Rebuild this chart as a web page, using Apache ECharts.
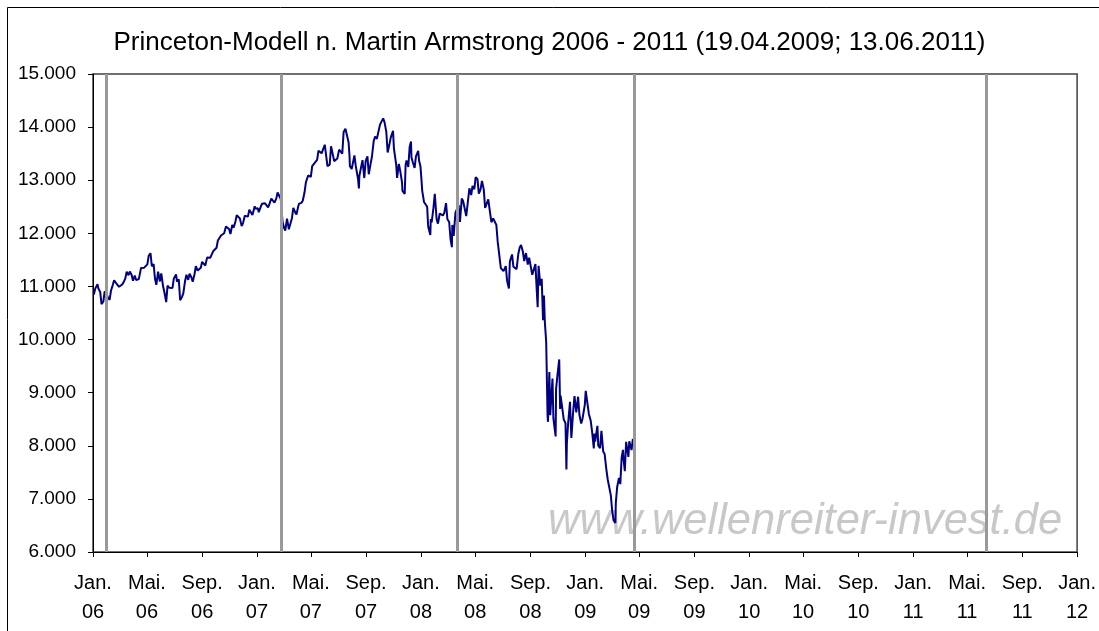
<!DOCTYPE html>
<html>
<head>
<meta charset="utf-8">
<script src="https://cdn.jsdelivr.net/npm/echarts@6/dist/echarts.min.js"></script>
<style>
  html, body { margin: 0; padding: 0; background: #fff; }
  #chart { width: 1099px; height: 631px; }
</style>
</head>
<body>
<div id="chart"></div>
<script>
// Dow-Jones Schlusskurse
const dates = [
  '2006-01-03','2006-01-06','2006-01-11','2006-01-13','2006-01-17','2006-01-20','2006-01-24','2006-01-27','2006-01-31',
  '2006-02-03','2006-02-07','2006-02-10','2006-02-14','2006-02-17','2006-02-21','2006-02-24','2006-02-28',
  '2006-03-03','2006-03-07','2006-03-10','2006-03-14','2006-03-17','2006-03-21','2006-03-24','2006-03-28','2006-03-31',
  '2006-04-04','2006-04-07','2006-04-11','2006-04-13','2006-04-18','2006-04-21','2006-04-25','2006-04-28',
  '2006-05-02','2006-05-05','2006-05-09','2006-05-10','2006-05-12','2006-05-16','2006-05-19','2006-05-22','2006-05-26','2006-05-30',
  '2006-06-02','2006-06-06','2006-06-09','2006-06-13','2006-06-16','2006-06-20','2006-06-23','2006-06-27','2006-06-30',
  '2006-07-05','2006-07-07','2006-07-11','2006-07-14','2006-07-18','2006-07-21','2006-07-25','2006-07-28',
  '2006-08-01','2006-08-04','2006-08-08','2006-08-11','2006-08-15','2006-08-18','2006-08-22','2006-08-25','2006-08-29',
  '2006-09-01','2006-09-05','2006-09-08','2006-09-12','2006-09-15','2006-09-19','2006-09-22','2006-09-26','2006-09-29',
  '2006-10-03','2006-10-06','2006-10-10','2006-10-13','2006-10-17','2006-10-20','2006-10-24','2006-10-27','2006-10-31',
  '2006-11-03','2006-11-07','2006-11-10','2006-11-14','2006-11-17','2006-11-21','2006-11-24','2006-11-28',
  '2006-12-01','2006-12-05','2006-12-08','2006-12-12','2006-12-15','2006-12-19','2006-12-22','2006-12-27','2006-12-29',
  '2007-01-03','2007-01-05','2007-01-09','2007-01-12','2007-01-16','2007-01-19','2007-01-23','2007-01-26','2007-01-30',
  '2007-02-02','2007-02-06','2007-02-09','2007-02-13','2007-02-16','2007-02-20','2007-02-23','2007-02-27',
  '2007-03-02','2007-03-05','2007-03-09','2007-03-13','2007-03-16','2007-03-20','2007-03-23','2007-03-27','2007-03-30',
  '2007-04-03','2007-04-05','2007-04-10','2007-04-13','2007-04-17','2007-04-20','2007-04-25','2007-04-27',
  '2007-05-01','2007-05-04','2007-05-08','2007-05-11','2007-05-15','2007-05-18','2007-05-22','2007-05-25','2007-05-29',
  '2007-06-01','2007-06-04','2007-06-07','2007-06-12','2007-06-15','2007-06-19','2007-06-22','2007-06-26','2007-06-29',
  '2007-07-03','2007-07-06','2007-07-10','2007-07-13','2007-07-17','2007-07-19','2007-07-24','2007-07-26','2007-07-27','2007-07-31',
  '2007-08-03','2007-08-06','2007-08-09','2007-08-10','2007-08-14','2007-08-16','2007-08-17','2007-08-21','2007-08-24','2007-08-28','2007-08-31',
  '2007-09-04','2007-09-07','2007-09-11','2007-09-14','2007-09-18','2007-09-21','2007-09-25','2007-09-28',
  '2007-10-02','2007-10-05','2007-10-09','2007-10-12','2007-10-16','2007-10-19','2007-10-23','2007-10-26','2007-10-31',
  '2007-11-02','2007-11-07','2007-11-09','2007-11-13','2007-11-16','2007-11-20','2007-11-21','2007-11-26','2007-11-28','2007-11-30',
  '2007-12-04','2007-12-07','2007-12-10','2007-12-11','2007-12-14','2007-12-18','2007-12-21','2007-12-26','2007-12-28','2007-12-31',
  '2008-01-02','2008-01-04','2008-01-08','2008-01-11','2008-01-15','2008-01-17','2008-01-18','2008-01-22','2008-01-23','2008-01-25','2008-01-29',
  '2008-02-01','2008-02-05','2008-02-08','2008-02-12','2008-02-15','2008-02-19','2008-02-22','2008-02-26','2008-02-29',
  '2008-03-04','2008-03-07','2008-03-10','2008-03-11','2008-03-14','2008-03-18','2008-03-20','2008-03-25','2008-03-28',
  '2008-04-01','2008-04-04','2008-04-08','2008-04-11','2008-04-15','2008-04-18','2008-04-22','2008-04-25','2008-04-29',
  '2008-05-02','2008-05-06','2008-05-09','2008-05-13','2008-05-16','2008-05-20','2008-05-23','2008-05-28','2008-05-30',
  '2008-06-03','2008-06-06','2008-06-10','2008-06-13','2008-06-17','2008-06-20','2008-06-24','2008-06-27',
  '2008-07-01','2008-07-03','2008-07-08','2008-07-11','2008-07-15','2008-07-17','2008-07-18','2008-07-22','2008-07-25','2008-07-29',
  '2008-08-01','2008-08-05','2008-08-08','2008-08-11','2008-08-15','2008-08-18','2008-08-22','2008-08-26','2008-08-29',
  '2008-09-02','2008-09-05','2008-09-09','2008-09-12','2008-09-15','2008-09-17','2008-09-19','2008-09-23','2008-09-26','2008-09-29',
  '2008-10-01','2008-10-03','2008-10-06','2008-10-09','2008-10-10','2008-10-13','2008-10-15','2008-10-17','2008-10-20','2008-10-22','2008-10-24','2008-10-27','2008-10-28','2008-10-31',
  '2008-11-04','2008-11-06','2008-11-07','2008-11-11','2008-11-14','2008-11-18','2008-11-20','2008-11-21','2008-11-24','2008-11-28',
  '2008-12-01','2008-12-05','2008-12-08','2008-12-12','2008-12-16','2008-12-19','2008-12-23','2008-12-26','2008-12-31',
  '2009-01-02','2009-01-06','2009-01-09','2009-01-13','2009-01-16','2009-01-20','2009-01-21','2009-01-23','2009-01-28','2009-01-30',
  '2009-02-03','2009-02-06','2009-02-09','2009-02-10','2009-02-13','2009-02-17','2009-02-20','2009-02-24','2009-02-27',
  '2009-03-02','2009-03-05','2009-03-06','2009-03-09','2009-03-10','2009-03-13','2009-03-17','2009-03-20','2009-03-23','2009-03-26','2009-03-27','2009-03-30',
  '2009-04-02','2009-04-03','2009-04-07','2009-04-09','2009-04-14','2009-04-17'
];
const values = [
  10847,10959,11043,10960,10896,10667,10712,10907,10865,
  10793,10749,10919,11028,11115,11069,11061,10993,
  11021,11038,11076,11151,11279,11211,11280,11215,11109,
  11204,11120,11089,11137,11349,11347,11354,11367,
  11416,11577,11626,11642,11380,11420,11144,11032,11278,11094,
  11247,11002,10891,10706,11014,10974,10989,10973,11150,
  11226,11091,11134,10739,10799,10868,11103,11219,
  11125,11240,11173,11088,11230,11381,11299,11284,11352,
  11464,11469,11393,11543,11560,11540,11508,11669,11679,
  11727,11866,11867,11960,11953,12002,12127,12090,12081,
  11986,12156,12108,12218,12342,12322,12280,12136,
  12194,12331,12307,12315,12445,12441,12343,12510,12463,
  12474,12398,12417,12556,12582,12565,12533,12487,12523,
  12653,12666,12580,12654,12768,12786,12647,12216,
  12114,12050,12276,12075,12110,12289,12481,12397,12354,
  12510,12560,12573,12612,12773,12961,13089,13120,
  13063,13264,13309,13327,13383,13556,13539,13507,13521,
  13668,13676,13267,13295,13639,13636,13360,13337,13408,
  13577,13611,13501,13907,13971,14000,13716,13473,13265,13212,
  13182,13468,13270,13239,13028,12846,13079,13091,13379,13041,13358,
  13448,13113,13308,13442,13739,13821,13779,13896,
  14047,14066,14164,14093,13912,13522,13676,13807,13930,
  13595,13300,13042,13307,13177,12958,12800,12743,13289,13372,
  13249,13625,13727,13433,13339,13232,13450,13551,13366,13265,
  13044,12800,12589,12606,12501,12159,12099,11971,12270,12207,12480,
  12743,12265,12183,12373,12348,12337,12381,12570,12266,
  12213,11894,11740,12157,11951,12392,12361,12533,12216,
  12655,12609,12577,12325,12362,12849,12720,12891,12832,
  13058,13020,12745,12833,12986,12828,12480,12594,12638,
  12390,12209,12280,12307,12160,11843,11807,11346,
  11382,11288,11384,11100,10962,11446,11496,11602,11370,11397,
  11326,11616,11734,11782,11659,11479,11628,11413,11543,
  11516,11220,11231,11421,10917,10609,11388,11017,11143,10365,
  10831,10325,9955,8579,8451,9387,8577,8852,9265,8519,8378,8176,9065,9325,
  9625,8695,8943,8693,8497,8424,7552,8046,8443,8829,
  8149,8635,8934,8629,8924,8579,8419,8515,8776,
  9034,9015,8599,8474,8281,7949,8228,8077,8375,8001,
  7957,8280,8270,7888,7850,7552,7365,7350,7062,
  6763,6594,6627,6547,6926,7224,7395,7278,7776,7924,7776,7522,
  8075,8018,7790,8083,7920,8131
];

// Wendepunkte (graue Linien)
const turnDates = ['2006-01-30', '2007-02-24', '2008-03-23', '2009-04-19', '2011-06-13'];

// X-Achse
const tickDates = [
  '2006-01-01','2006-05-01','2006-09-01','2007-01-01','2007-05-01','2007-09-01',
  '2008-01-01','2008-05-01','2008-09-01','2009-01-01','2009-05-01','2009-09-01',
  '2010-01-01','2010-05-01','2010-09-01','2011-01-01','2011-05-01','2011-09-01','2012-01-01'
];
const tickLabels = [
  'Jan.\n06','Mai.\n06','Sep.\n06','Jan.\n07','Mai.\n07','Sep.\n07',
  'Jan.\n08','Mai.\n08','Sep.\n08','Jan.\n09','Mai.\n09','Sep.\n09',
  'Jan.\n10','Mai.\n10','Sep.\n10','Jan.\n11','Mai.\n11','Sep.\n11','Jan.\n12'
];

const FONT = '"Liberation Sans", Arial, sans-serif';

// Datum -> Zeitstempel (UTC), damit die Achse als Werteachse laufen kann
const ts = (d) => Date.parse(d + 'T00:00:00Z');
const tickTimes = tickDates.map(ts);
const labelFor = (val) => {
  let best = 0;
  tickTimes.forEach((t, i) => { if (Math.abs(t - val) < Math.abs(tickTimes[best] - val)) best = i; });
  return tickLabels[best];
};

const chart = echarts.init(document.getElementById('chart'), null, { renderer: 'canvas' });

chart.setOption({
  backgroundColor: '#fff',
  animation: false,
  title: {
    text: 'Princeton-Modell n. Martin Armstrong 2006 - 2011 (19.04.2009; 13.06.2011)',
    left: 'center', top: 25,
    textStyle: { fontFamily: FONT, fontSize: 26, fontWeight: 'normal', color: '#000' }
  },
  grid: {
    left: 93, right: 16, top: 74, bottom: 79,
    show: true, borderColor: '#404040', borderWidth: 1.5, backgroundColor: 'transparent'
  },
  graphic: [
    {
      type: 'rect', z: -10, silent: true,
      shape: { x: 7.5, y: 7.5, width: 1300, height: 800 },
      style: { fill: 'none', stroke: '#000', lineWidth: 1 }
    },
    {
      type: 'text', z: 0, left: 548, top: 500, silent: true,
      style: {
        text: 'www.wellenreiter-invest.de',
        font: 'italic 43.5px ' + FONT,
        fill: '#c8c8c8'
      }
    }
  ],
  xAxis: {
    type: 'value',
    min: tickTimes[0], max: tickTimes[tickTimes.length - 1],
    axisLine: { show: true, lineStyle: { color: '#000', width: 1 } },
    axisTick: { show: true, length: 5, lineStyle: { color: '#000' }, customValues: tickTimes },
    axisLabel: {
      customValues: tickTimes,
      formatter: labelFor,
      fontFamily: FONT, fontSize: 20, color: '#000',
      lineHeight: 29, margin: 17, hideOverlap: false
    },
    splitLine: { show: false }
  },
  yAxis: {
    type: 'value', min: 6000, max: 15000, interval: 1000,
    axisLine: { show: true, lineStyle: { color: '#000', width: 1 } },
    axisTick: { show: true, length: 5, lineStyle: { color: '#000' } },
    axisLabel: {
      fontFamily: FONT, fontSize: 19, color: '#000', margin: 17,
      formatter: v => String(v).replace(/\B(?=(\d{3})+(?!\d))/g, '.')
    },
    splitLine: { show: false }
  },
  series: [{
    type: 'line',
    data: dates.map((d, i) => [ts(d), values[i]]),
    showSymbol: false,
    lineStyle: { color: '#000080', width: 2 },
    z: 3,
    markLine: {
      silent: true, symbol: 'none', animation: false, z: 4,
      label: { show: false },
      lineStyle: { color: '#999999', width: 3, type: 'solid' },
      data: turnDates.map(d => ({ xAxis: ts(d) }))
    }
  }]
});
</script>
</body>
</html>
